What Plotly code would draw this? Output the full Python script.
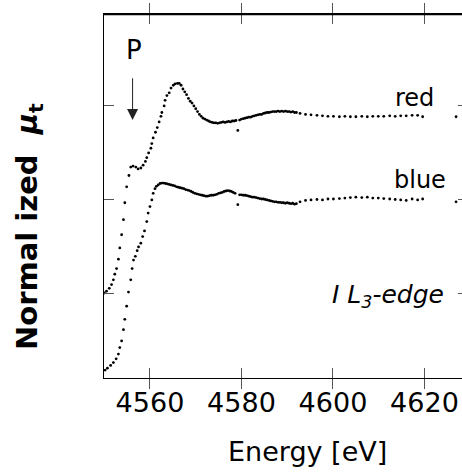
import plotly.graph_objects as go

# ---- data (Energy in eV, normalized absorption, offset per series) ----
red_E = [4550.0, 4550.5, 4551.1, 4551.6, 4552.0, 4552.3, 4552.7, 4553.1, 4553.4, 4553.8,
         4554.2, 4554.5, 4554.9, 4555.4, 4555.8, 4556.3, 4556.9, 4557.4, 4558.0, 4558.5,
         4559.0, 4559.3, 4559.7, 4560.2, 4560.4, 4560.7, 4561.2, 4561.6, 4562.0, 4562.4,
         4562.6, 4563.1, 4563.3, 4563.7, 4564.2, 4564.6, 4565.1, 4565.5, 4566.0, 4566.4,
         4566.8, 4567.2, 4567.6, 4568.0, 4568.4, 4568.8, 4569.2, 4569.6, 4570.0, 4570.4,
         4570.8, 4571.2, 4571.6, 4572.0, 4572.4, 4572.8, 4573.2, 4573.6, 4574.0, 4574.4,
         4574.8, 4575.2, 4575.6, 4576.0, 4576.4, 4576.8, 4577.2, 4577.6, 4578.0, 4578.4,
         4578.8, 4579.2, 4579.6, 4580.0, 4580.4, 4580.8, 4581.2, 4581.6, 4582.0, 4582.4,
         4582.8, 4583.2, 4583.6, 4584.0, 4584.4, 4584.8, 4585.2, 4585.6, 4586.0, 4586.4,
         4586.8, 4587.2, 4587.6, 4588.0, 4588.4, 4588.8, 4589.2, 4589.6, 4590.0, 4590.4,
         4590.8, 4591.2, 4591.6, 4592.0,
         4592.8, 4594.0, 4595.2, 4596.5, 4597.7, 4598.9, 4600.1, 4601.4, 4602.6, 4603.8,
         4605.0, 4606.3, 4607.5, 4608.7, 4609.9, 4611.1, 4612.4, 4613.6, 4614.8, 4616.0,
         4617.3, 4618.5, 4619.6, 4626.9]
red_mu = [1.00, 1.02, 1.05, 1.09, 1.14, 1.20, 1.26, 1.36, 1.48, 1.62,
          1.78, 1.96, 2.13, 2.25, 2.34, 2.35, 2.34, 2.32, 2.33, 2.36,
          2.40, 2.44, 2.49, 2.54, 2.59, 2.65, 2.71, 2.76, 2.82, 2.88,
          2.92, 2.99, 3.05, 3.10, 3.13, 3.18, 3.21, 3.225, 3.23, 3.23,
          3.21, 3.17, 3.14, 3.11, 3.07, 3.04, 3.02, 2.99, 2.96, 2.93,
          2.90, 2.88, 2.86, 2.85, 2.84, 2.83, 2.82, 2.815, 2.81, 2.81,
          2.805, 2.81, 2.815, 2.82, 2.815, 2.82, 2.825, 2.82, 2.83, 2.83,
          2.835, 2.73, 2.84, 2.85, 2.855, 2.86, 2.865, 2.87, 2.87, 2.88,
          2.885, 2.89, 2.895, 2.90, 2.90, 2.91, 2.915, 2.92, 2.92, 2.925,
          2.93, 2.93, 2.93, 2.935, 2.93, 2.935, 2.93, 2.935, 2.93, 2.93,
          2.925, 2.93, 2.92, 2.92,
          2.91, 2.90, 2.895, 2.89, 2.885, 2.88, 2.88, 2.875, 2.88, 2.875,
          2.875, 2.88, 2.875, 2.88, 2.88, 2.88, 2.885, 2.88, 2.885, 2.885,
          2.89, 2.89, 2.875, 2.875]

blue_E = [4550.2, 4550.7, 4551.4, 4552.0, 4552.6, 4553.1, 4553.4, 4553.8, 4554.2, 4554.5,
          4554.9, 4555.3, 4555.8, 4556.1, 4556.4, 4556.8, 4557.2, 4557.5, 4558.0, 4558.4,
          4558.8, 4559.3, 4559.6, 4560.0, 4560.4, 4560.7, 4561.1, 4561.4, 4561.8, 4562.2,
          4562.6, 4563.0, 4563.4, 4563.8, 4564.2, 4564.6, 4565.0, 4565.4, 4565.8, 4566.2,
          4566.6, 4567.0, 4567.4, 4567.8, 4568.2, 4568.6, 4569.0, 4569.4, 4569.8, 4570.2,
          4570.6, 4571.0, 4571.4, 4571.8, 4572.2, 4572.6, 4573.0, 4573.4, 4573.8, 4574.2,
          4574.6, 4575.0, 4575.4, 4575.8, 4576.2, 4576.6, 4577.0, 4577.4, 4577.8, 4578.2,
          4578.6, 4579.2, 4579.6, 4580.0, 4580.4, 4580.8, 4581.2, 4581.6, 4582.0, 4582.4,
          4582.8, 4583.2, 4583.6, 4584.0, 4584.4, 4584.8, 4585.2, 4585.6, 4586.0, 4586.4,
          4586.8, 4587.2, 4587.6, 4588.0, 4588.4, 4588.8, 4589.2, 4589.6, 4590.0, 4590.4,
          4590.8, 4591.2, 4591.6, 4592.0,
          4592.8, 4594.0, 4595.2, 4596.5, 4597.7, 4598.9, 4600.1, 4601.4, 4602.6, 4603.8,
          4605.0, 4606.3, 4607.5, 4608.7, 4609.9, 4611.1, 4612.4, 4613.6, 4614.8, 4616.0,
          4617.3, 4618.5, 4619.6, 4626.9]
blue_mu = [0.18, 0.20, 0.23, 0.26, 0.30, 0.35, 0.42, 0.49, 0.61, 0.72,
           0.86, 1.01, 1.14, 1.26, 1.35, 1.39, 1.45, 1.49, 1.53, 1.60,
           1.66, 1.76, 1.85, 1.92, 1.99, 2.06, 2.11, 2.135, 2.15, 2.165,
           2.17, 2.17, 2.165, 2.16, 2.155, 2.15, 2.145, 2.14, 2.13, 2.125,
           2.12, 2.115, 2.11, 2.10, 2.095, 2.09, 2.08, 2.07, 2.06, 2.055,
           2.05, 2.045, 2.04, 2.035, 2.03, 2.03, 2.035, 2.04, 2.04, 2.045,
           2.05, 2.06, 2.065, 2.07, 2.08, 2.085, 2.09, 2.085, 2.08, 2.07,
           2.06, 1.94, 2.045, 2.045, 2.04, 2.04, 2.035, 2.03, 2.025, 2.02,
           2.02, 2.015, 2.01, 2.005, 2.00, 2.00, 1.995, 1.99, 1.985, 1.98,
           1.975, 1.97, 1.97, 1.965, 1.965, 1.96, 1.96, 1.955, 1.96, 1.955,
           1.95, 1.955, 1.945, 1.95,
           1.97, 1.985, 1.99, 1.995, 1.99, 2.00, 2.00, 2.005, 2.01, 2.015,
           2.02, 2.015, 2.02, 2.01, 2.01, 2.005, 2.00, 1.995, 1.99, 1.985,
           2.00, 1.99, 2.00, 1.97]

x_ticks = [4560, 4580, 4600, 4620]
x_ticklabels = ["4560", "4580", "4600", "4620"]
y_ticks = [1, 2, 3]
x_range = [4549.95, 4628.2]
y_range = [0.096, 3.968]

FONT = "DejaVu Sans"

fig = go.Figure()
for E, mu, name in [(red_E, red_mu, "red"), (blue_E, blue_mu, "blue")]:
    fig.add_trace(go.Scatter(x=E, y=mu, mode="markers", name=name,
                             marker=dict(size=2.8, color="black", line=dict(width=0)),
                             showlegend=False))
# empty trace so the right-hand tick axis is drawn
fig.add_trace(go.Scatter(x=[None], y=[None], xaxis="x", yaxis="y2",
                         mode="markers", showlegend=False, hoverinfo="skip"))

fig.update_layout(
    width=462, height=472,
    margin=dict(l=104, r=0, t=14, b=94),
    paper_bgcolor="white", plot_bgcolor="white",
    font=dict(family=FONT, color="black"),
    xaxis=dict(range=x_range, tickvals=x_ticks, ticktext=x_ticklabels,
               ticks="inside", ticklen=10, tickwidth=1, tickcolor="#555",
               showline=True, linecolor="black", linewidth=1.4, mirror="allticks",
               showgrid=False, zeroline=False,
               tickfont=dict(family=FONT, size=27, color="black")),
    yaxis=dict(range=y_range, tickvals=y_ticks, showticklabels=False,
               ticks="inside", ticklen=10, tickwidth=1, tickcolor="#555",
               showline=True, linecolor="black", linewidth=1.4, mirror=False,
               showgrid=False, zeroline=False),
    yaxis2=dict(overlaying="y", side="right", range=y_range, anchor="x",
                tickvals=y_ticks, showticklabels=False,
                ticks="inside", ticklen=4, tickwidth=1, tickcolor="#555",
                showline=False, showgrid=False, zeroline=False),
    shapes=[dict(type="rect", xref="paper", yref="paper", x0=0, x1=1.01,
                 y0=0.9965, y1=1.0025, layer="above",
                 fillcolor="black", line=dict(width=0))],
)

annotations = [
    dict(text="Energy [eV]", xref="paper", yref="paper", x=0.5698, y=0,
         xanchor="center", yanchor="top", yshift=-56, showarrow=False,
         font=dict(family=FONT, size=27, color="black")),
    dict(text="<b>Normal ized  <i>μ</i><sub>t</sub></b>", xref="paper", yref="paper",
         x=-0.2095, y=0.4176, xanchor="center", yanchor="middle", textangle=-90,
         showarrow=False, font=dict(family=FONT, size=29, color="black")),
    dict(text="red", x=4617.9, y=3.07, xref="x", yref="y", showarrow=False,
         xanchor="center", yanchor="middle", font=dict(family=FONT, size=24, color="black")),
    dict(text="blue", x=4619.1, y=2.20, xref="x", yref="y", showarrow=False,
         xanchor="center", yanchor="middle", font=dict(family=FONT, size=24, color="black")),
    dict(text="P", x=4556.5, y=3.58, xref="x", yref="y", showarrow=False,
         xanchor="center", yanchor="middle", font=dict(family=FONT, size=26, color="black")),
    dict(text="<i>I L<sub>3</sub>-edge</i>", x=4612.1, y=0.97, xref="x", yref="y",
         showarrow=False, xanchor="center", yanchor="middle",
         font=dict(family=FONT, size=25, color="black")),
    dict(text="", x=4556.2, y=2.84, ax=4556.2, ay=3.30, xref="x", yref="y",
         axref="x", ayref="y", showarrow=True, arrowhead=2, arrowsize=2.2,
         arrowwidth=1, arrowcolor="#222"),
]
fig.update_layout(annotations=annotations)

fig.write_html("out.html")
